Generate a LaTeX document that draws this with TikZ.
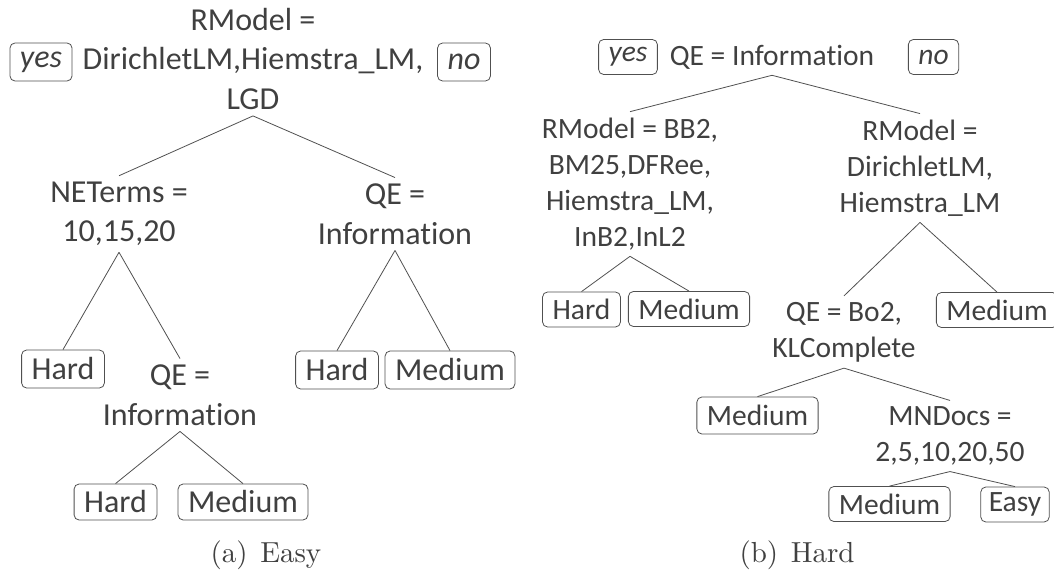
\documentclass[tikz,border=0pt]{standalone}
\usepackage{fontspec}
\newfontfamily\calib[Ligatures=NoCommon]{Carlito}
\newfontfamily\capfont{lmroman10-regular}[Extension=.otf]
\usepackage{tikz}
\definecolor{ink}{HTML}{404040}
\definecolor{rule}{HTML}{505050}

\begin{document}
\begin{tikzpicture}[
    x=1pt, y=-1pt,
    every node/.style={text=ink},
    bigtxt/.style={font=\calib\fontsize{32}{39.5}\selectfont},
    smalltxt/.style={font=\calib\fontsize{29.5}{36}\selectfont},
    split/.style={align=center, inner xsep=2pt, inner ysep=6pt},
    leaf/.style={draw=rule, line width=0.8pt, rounded corners=5pt, inner xsep=10pt, inner ysep=0pt},
    bigleaf/.style={leaf, bigtxt, minimum height=38pt},
    smallleaf/.style={leaf, smalltxt, minimum height=35pt},
    edge/.style={draw=rule, line width=0.8pt},
    caption/.style={font=\capfont\fontsize{29}{34}\selectfont}
    ]
    \useasboundingbox (0,0) rectangle (1054,575);
    \node[bigtxt, split] (rootA) at (253,59) {RModel =\\DirichletLM,Hiemstra\_LM,\\LGD};
    \node[bigleaf] (yesA) at (41,62) {\itshape yes};
    \node[bigleaf] (noA) at (464,62) {\itshape no};
    \node[bigtxt, split] (neA) at (119,214) {NETerms =\\10,15,20};
    \node[bigtxt, split] (qeA1) at (395,214) {QE =\\Information};
    \node[bigleaf] (hardA1) at (63,369) {Hard};
    \node[bigtxt, split] (qeA2) at (180,395) {QE =\\Information};
    \node[bigleaf, minimum height=36pt] (hardA2) at (115.5,502) {Hard};
    \node[bigleaf, minimum height=36pt] (medA2) at (243,502) {Medium};
    \node[bigleaf] (hardA3) at (337,370) {Hard};
    \node[bigleaf] (medA3) at (450,370) {Medium};
    \draw[edge] (rootA.south) -- (neA.north);
    \draw[edge] (rootA.south) -- (qeA1.north);
    \draw[edge] (neA.south) -- (hardA1.north);
    \draw[edge] (neA.south) -- (qeA2.north);
    \draw[edge] (qeA2.south) -- (hardA2.north);
    \draw[edge] (qeA2.south) -- (medA2.north);
    \draw[edge] (qeA1.south) -- (hardA3.north);
    \draw[edge] (qeA1.south) -- (medA3.north);
    \node[caption] (capA) at (266,555) {(a)\hspace{0.1em} Easy};

    \node[smalltxt, split] (qeB1) at (772,57) {QE = Information};
    \node[smallleaf] (yesB) at (628,57) {\itshape yes};
    \node[smallleaf] (noB) at (933.5,57) {\itshape no};
    \node[smalltxt, split] (rmB1) at (630,184) {RModel = BB2,\\BM25,DFRee,\\Hiemstra\_LM,\\InB2,InL2};
    \node[smalltxt, split] (rmB2) at (920,168) {RModel =\\DirichletLM,\\Hiemstra\_LM};
    \node[smallleaf] (hardB1) at (581.5,309.5) {Hard};
    \node[smallleaf] (medB1) at (689,309) {Medium};
    \node[smalltxt, split] (qeB2) at (844,332) {QE = Bo2,\\KLComplete};
    \node[smallleaf] (medB2) at (997,310) {Medium};
    \node[smallleaf, minimum height=37pt] (medB3) at (757.5,415.5) {Medium};
    \node[smalltxt, split] (mnB) at (950,436) {MNDocs =\\2,5,10,20,50};
    \node[smallleaf] (medB4) at (889.5,504) {Medium};
    \node[smallleaf, inner xsep=8pt] (easyB) at (1015,504.5) {Easy};
    \draw[edge] (qeB1.south) -- (rmB1.north);
    \draw[edge] (qeB1.south) -- (rmB2.north);
    \draw[edge] (rmB1.south) -- (hardB1.north);
    \draw[edge] (rmB1.south) -- (medB1.north);
    \draw[edge] (rmB2.south) -- (qeB2.north);
    \draw[edge] (rmB2.south) -- (medB2.north);
    \draw[edge] (qeB2.south) -- (medB3.north);
    \draw[edge] (qeB2.south) -- (mnB.north);
    \draw[edge] (mnB.south) -- (medB4.north);
    \draw[edge] (mnB.south) -- (easyB.north);
    \node[caption] (capB) at (797,555) {(b)\hspace{0.1em} Hard};
  \end{tikzpicture}
\end{document}
